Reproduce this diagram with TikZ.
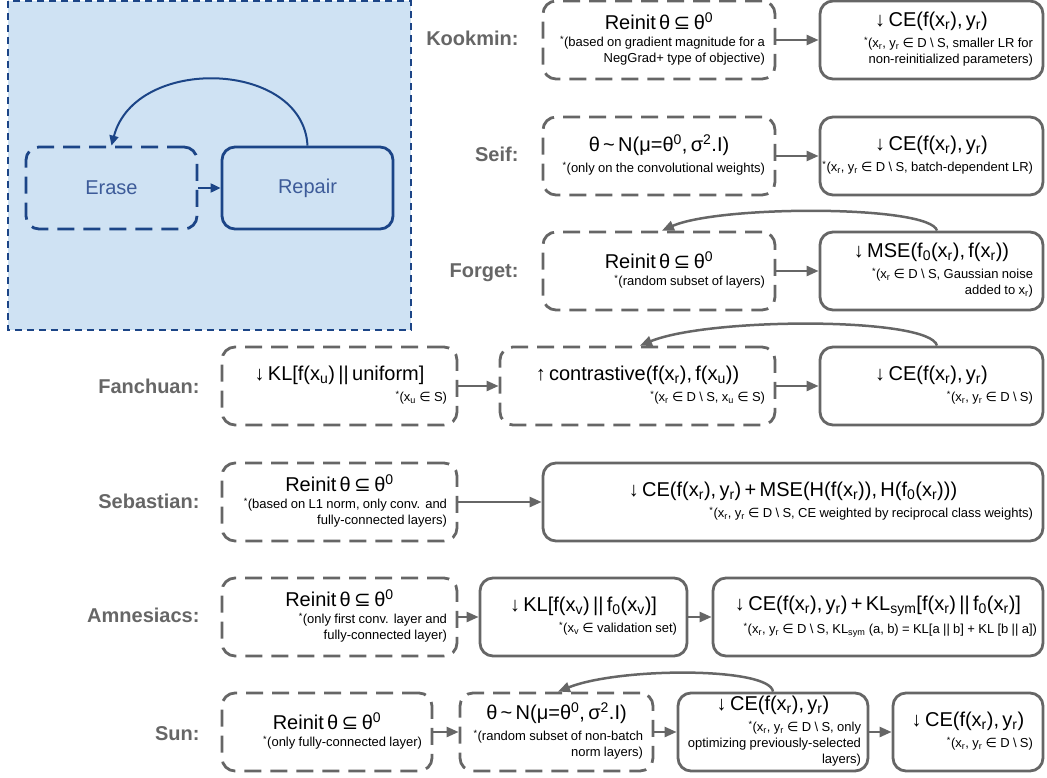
\documentclass[tikz,border=0pt]{standalone}
\usepackage{fontspec}
\setmainfont{Liberation Sans}
\newfontfamily\symfont{DejaVu Sans}
\usetikzlibrary{arrows.meta, positioning}

\definecolor{linegray}{HTML}{666666}
\definecolor{legendfill}{HTML}{CFE2F3}
\definecolor{legendblue}{HTML}{1C4587}
\definecolor{legendtext}{HTML}{3D5B99}

\newcommand{\mainsize}{\fontsize{20}{24}\selectfont}
\newcommand{\notesize}{\fontsize{13}{16}\selectfont}
\newcommand{\subeq}{{\symfont ⊆}}
\newcommand{\elem}{{\symfont ∈}}
\newcommand{\wo}{\textbackslash{}}
\newcommand{\lo}[1]{\textsubscript{#1}}
\newcommand{\hi}[1]{\textsuperscript{#1}}
\newcommand{\steptext}[2]{{\centering\mainsize #1\par}\vspace{5pt}%
	\hbox to \hsize{\hss\notesize\begin{tabular}[t]{@{}r@{}}\hi{*}#2\end{tabular}}}

\begin{document}
\begin{tikzpicture}[x=1pt, y=-1pt,
	stepbox/.style={draw=linegray, line width=2.8pt, rounded corners=13pt, minimum height=78pt, inner xsep=10pt, inner ysep=0pt},
	erasebox/.style={stepbox, dash pattern=on 17pt off 9pt},
	flow/.style={draw=linegray, line width=2.5pt, -{Triangle[length=12pt,width=10pt]}},
	rowlabel/.style={anchor=east, text=linegray, font=\fontsize{20}{24}\selectfont\bfseries},
	legendstep/.style={draw=legendblue, text=legendtext, line width=2.8pt, rounded corners=13pt, minimum width=171pt, minimum height=82pt, font=\fontsize{20}{24}\selectfont},
	legendflow/.style={draw=legendblue, line width=2pt, -{Triangle[length=10pt,width=9pt]}}]
	\useasboundingbox (0,0) rectangle (1047,778);

	% Legend: erase then repair
	\draw[legendblue, fill=legendfill, line width=1.8pt, dash pattern=on 7pt off 5pt] (8,1) rectangle (411,330);
	\node[legendstep, dash pattern=on 17pt off 9pt] (erase) at (111.5,188) {Erase};
	\node[legendstep] (repair) at (307.5,188) {Repair};
	\draw[legendflow] (erase) -- (repair);
	\draw[legendflow] (repair.north) .. controls (303,60) and (135,55) .. (erase.north);

	% Kookmin
	\node[rowlabel] (kookmin) at (522,38) {Kookmin:};
	\node[erasebox, text width=212pt] (kookmin1) at (659,40) {\steptext{Reinit θ \subeq{} θ\hi{0}}{(based on gradient magnitude for a\\NegGrad+ type of objective)}};
	\node[stepbox, text width=203pt] (kookmin2) at (931.5,40) {\steptext{↓ CE(f(x\lo{r}), y\lo{r})}{(x\lo{r}, y\lo{r} \elem{} D \wo{} S, smaller LR for\\non-reinitialized parameters)}};
	\draw[flow] (kookmin1) -- (kookmin2);

	% Seif
	\node[rowlabel] (seif) at (522,154) {Seif:};
	\node[erasebox, text width=212pt] (seif1) at (659,156) {\steptext{θ \textasciitilde{} N(μ=θ\hi{0}, σ\hi{2}.I)}{(only on the convolutional weights)}};
	\node[stepbox, text width=203pt] (seif2) at (931.5,156) {\steptext{↓ CE(f(x\lo{r}), y\lo{r})}{(x\lo{r}, y\lo{r} \elem{} D \wo{} S, batch-dependent LR)}};
	\draw[flow] (seif1) -- (seif2);

	% Forget
	\node[rowlabel] (forget) at (522,273) {Forget:};
	\node[erasebox, text width=212pt] (forget1) at (659,271) {\steptext{Reinit θ \subeq{} θ\hi{0}}{(random subset of layers)}};
	\node[stepbox, text width=203pt] (forget2) at (931.5,271) {\steptext{↓ MSE(f\lo{0}(x\lo{r}), f(x\lo{r}))}{(x\lo{r} \elem{} D \wo{} S, Gaussian noise\\added to x\lo{r})}};
	\draw[flow] (forget1) -- (forget2);
	\draw[flow] ([xshift=5.5pt]forget2.north) .. controls (930,205) and (720,205) .. ([xshift=3pt]forget1.north);

	% Fanchuan
	\node[rowlabel] (fanchuan) at (203,386) {Fanchuan:};
	\node[erasebox, text width=215pt] (fanchuan1) at (339.5,386) {\steptext{↓ KL[f(x\lo{u}) || uniform]}{(x\lo{u} \elem{} S)}};
	\node[erasebox, text width=255pt] (fanchuan2) at (637.5,386) {\steptext{↑ contrastive(f(x\lo{r}), f(x\lo{u}))}{(x\lo{r} \elem{} D \wo{} S, x\lo{u} \elem{} S)}};
	\node[stepbox, text width=203pt] (fanchuan3) at (931.5,386) {\steptext{↓ CE(f(x\lo{r}), y\lo{r})}{(x\lo{r}, y\lo{r} \elem{} D \wo{} S)}};
	\draw[flow] (fanchuan1) -- (fanchuan2);
	\draw[flow] (fanchuan2) -- (fanchuan3);
	\draw[flow] ([xshift=5.5pt]fanchuan3.north) .. controls (930,317) and (710,317) .. ([xshift=2.5pt]fanchuan2.north);

	% Sebastian
	\node[rowlabel] (sebastian) at (203,501) {Sebastian:};
	\node[erasebox, text width=215pt] (sebastian1) at (339.5,502) {\steptext{Reinit θ \subeq{} θ\hi{0}}{(based on L1 norm, only conv. and\\fully-connected layers)}};
	\node[stepbox, text width=480pt] (sebastian2) at (793,502) {\steptext{↓ CE(f(x\lo{r}), y\lo{r}) + MSE(H(f(x\lo{r})), H(f\lo{0}(x\lo{r})))}{(x\lo{r}, y\lo{r} \elem{} D \wo{} S, CE weighted by reciprocal class weights)}};
	\draw[flow] (sebastian1) -- (sebastian2);

	% Amnesiacs
	\node[rowlabel] (amnesiacs) at (203,615) {Amnesiacs:};
	\node[erasebox, text width=215pt] (amnesiacs1) at (339.5,617) {\steptext{Reinit θ \subeq{} θ\hi{0}}{(only first conv. layer and\\fully-connected layer)}};
	\node[stepbox, text width=187pt] (amnesiacs2) at (583.5,617) {\steptext{↓ KL[f(x\lo{v}) || f\lo{0}(x\lo{v})]}{(x\lo{v} \elem{} validation set)}};
	\node[stepbox, text width=318pt, inner xsep=6pt] (amnesiacs3) at (878,617) {\steptext{↓ CE(f(x\lo{r}), y\lo{r}) + KL\lo{sym}[f(x\lo{r}) || f\lo{0}(x\lo{r})]}{(x\lo{r}, y\lo{r} \elem{} D \wo{} S, KL\lo{sym} (a, b) = KL[a || b] + KL [b || a])}};
	\draw[flow] (amnesiacs1) -- (amnesiacs2);
	\draw[flow] (amnesiacs2) -- (amnesiacs3);

	% Sun
	\node[rowlabel] (sun) at (203,734) {Sun:};
	\node[erasebox, text width=190pt] (sun1) at (327,732) {\steptext{Reinit θ \subeq{} θ\hi{0}}{(only fully-connected layer)}};
	\node[erasebox, text width=173pt] (sun2) at (556.5,732) {\steptext{θ \textasciitilde{} N(μ=θ\hi{0}, σ\hi{2}.I)}{(random subset of non-batch\\norm layers)}};
	\node[stepbox, text width=176pt, inner xsep=7pt] (sun3) at (773,732) {\steptext{↓ CE(f(x\lo{r}), y\lo{r})}{(x\lo{r}, y\lo{r} \elem{} D \wo{} S, only\\optimizing previously-selected\\layers)}};
	\node[stepbox, text width=130pt] (sun4) at (968,732) {\steptext{↓ CE(f(x\lo{r}), y\lo{r})}{(x\lo{r}, y\lo{r} \elem{} D \wo{} S)}};
	\draw[flow] (sun1) -- (sun2);
	\draw[flow] (sun2) -- (sun3);
	\draw[flow] (sun3) -- (sun4);
	\draw[flow] (sun3.north) .. controls (770,667) and (620,667) .. ([xshift=1.5pt]sun2.north);
\end{tikzpicture}
\end{document}
